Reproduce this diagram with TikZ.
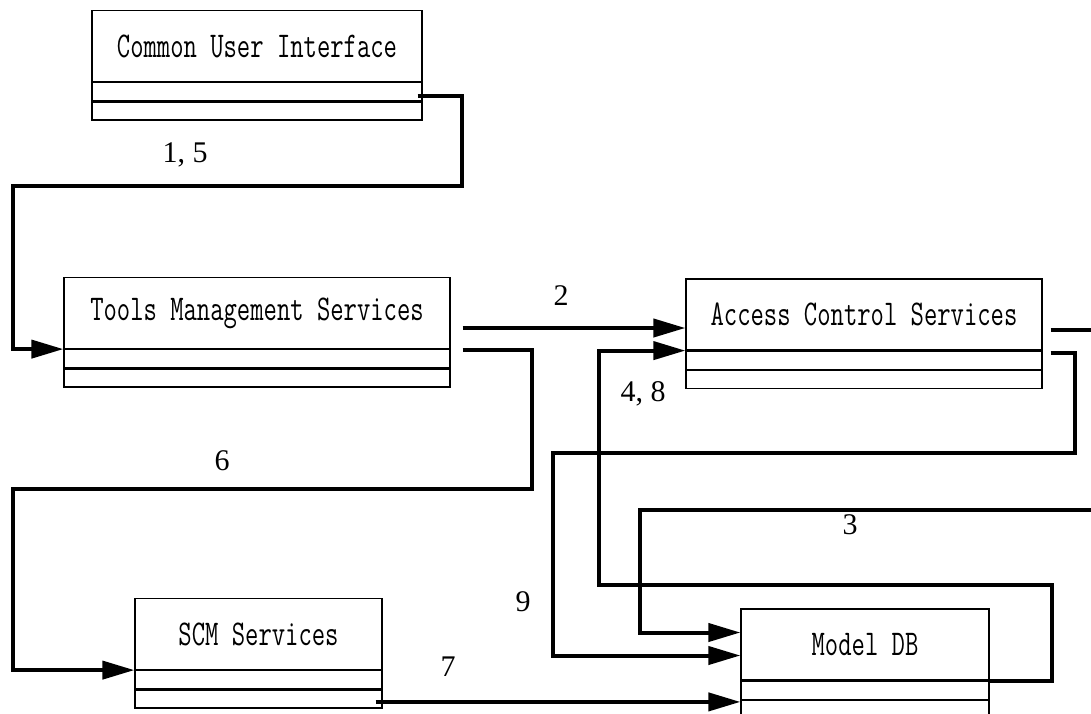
\documentclass[tikz,border=0pt]{standalone}
\usepackage{fontspec}
\usepackage{graphicx}
\setmainfont{Liberation Serif}
\usetikzlibrary{positioning,arrows.meta}
\newcommand\tall[1]{\scalebox{1}[1.4]{#1}}

\begin{document}
\begin{tikzpicture}[x=1pt,y=-1pt]
  \tikzstyle{box}=[draw,line width=1.2pt,inner sep=0pt,minimum height=71pt,
                   font=\ttfamily\fontsize{25.9pt}{27pt}\selectfont]
  \tikzstyle{strip}=[draw,line width=1.2pt,inner sep=0pt,minimum height=18pt]
  \tikzstyle{wire}=[line width=4pt]
  \tikzstyle{conn}=[wire,-{Triangle[length=32pt,width=18pt]}]
  \tikzstyle{num}=[font=\fontsize{30pt}{30pt}\selectfont,inner sep=0pt]
  \useasboundingbox (0,0) rectangle (1091,713);
  \clip (0,0) rectangle (1091,713);
  % services: text part plus two empty strips
  \foreach \n/\x/\y/\w/\t in {cui/257/46/330/Common User Interface,
      tms/257/313/386/Tools Management Services,
      acs/864/314.5/356/Access Control Services,
      scm/258.5/634/247/SCM Services,
      mdb/865/644.5/248/Model DB}{
    \node[box,minimum width=\w pt] (\n) at (\x,\y) {\tall{\t}};
    \node[strip,minimum width=\w pt,below=0pt of \n] (\n1) {};
    \node[strip,minimum width=\w pt,below=0pt of \n1] (\n2) {};
  }
  % corners of the routes
  \coordinate (r15) at (462,186);
  \coordinate (l15) at (13,186);
  \coordinate (r6) at (532,489);
  \coordinate (l6) at (13,489);
  \coordinate (e3) at (1096,510);
  \coordinate (t3) at (640,510);
  \coordinate (r48) at (1052,585);
  \coordinate (l48) at (599,585);
  \coordinate (r9) at (1075,453);
  \coordinate (l9) at (553,453);
  \coordinate (s2) at ([shift={(12,15)}]tms.east);
  \coordinate (s3) at ([shift={(8,15)}]acs.east);
  \coordinate (s7) at ([shift={(-7,3)}]scm2.east);
  % connectors
  \draw[conn] ([shift={(-5,4)}]cui1.east) -| (r15) -- (l15) |- (tms.south west);
  \draw[conn] (s2) -- (s2 -| acs.west);
  \draw[conn] ([shift={(12,1)}]tms.south east) -| (r6) -- (l6) |- (scm.south west);
  \draw[wire] (s3) -- (s3 -| e3);
  \draw[conn] (e3) -- (t3) |- ([shift={(0,-12)}]mdb.west);
  \draw[conn] (mdb.south east) -| (r48) -- (l48) |- (acs.south west);
  \draw[conn] ([shift={(8,2)}]acs.south east) -| (r9) -- (l9) |- ([shift={(0,11)}]mdb.west);
  \draw[conn] (s7) -- (s7 -| mdb.west);
  % step numbers
  \node[num] (n15) at (185,155) {1, 5};
  \node[num] (n2) at (561,296) {2};
  \node[num] (n6) at (222,461) {6};
  \node[num] (n48) at (643,394) {4, 8};
  \node[num] (n3) at (850,525) {3};
  \node[num] (n9) at (523,602) {9};
  \node[num] (n7) at (448,667) {7};
\end{tikzpicture}
\end{document}
